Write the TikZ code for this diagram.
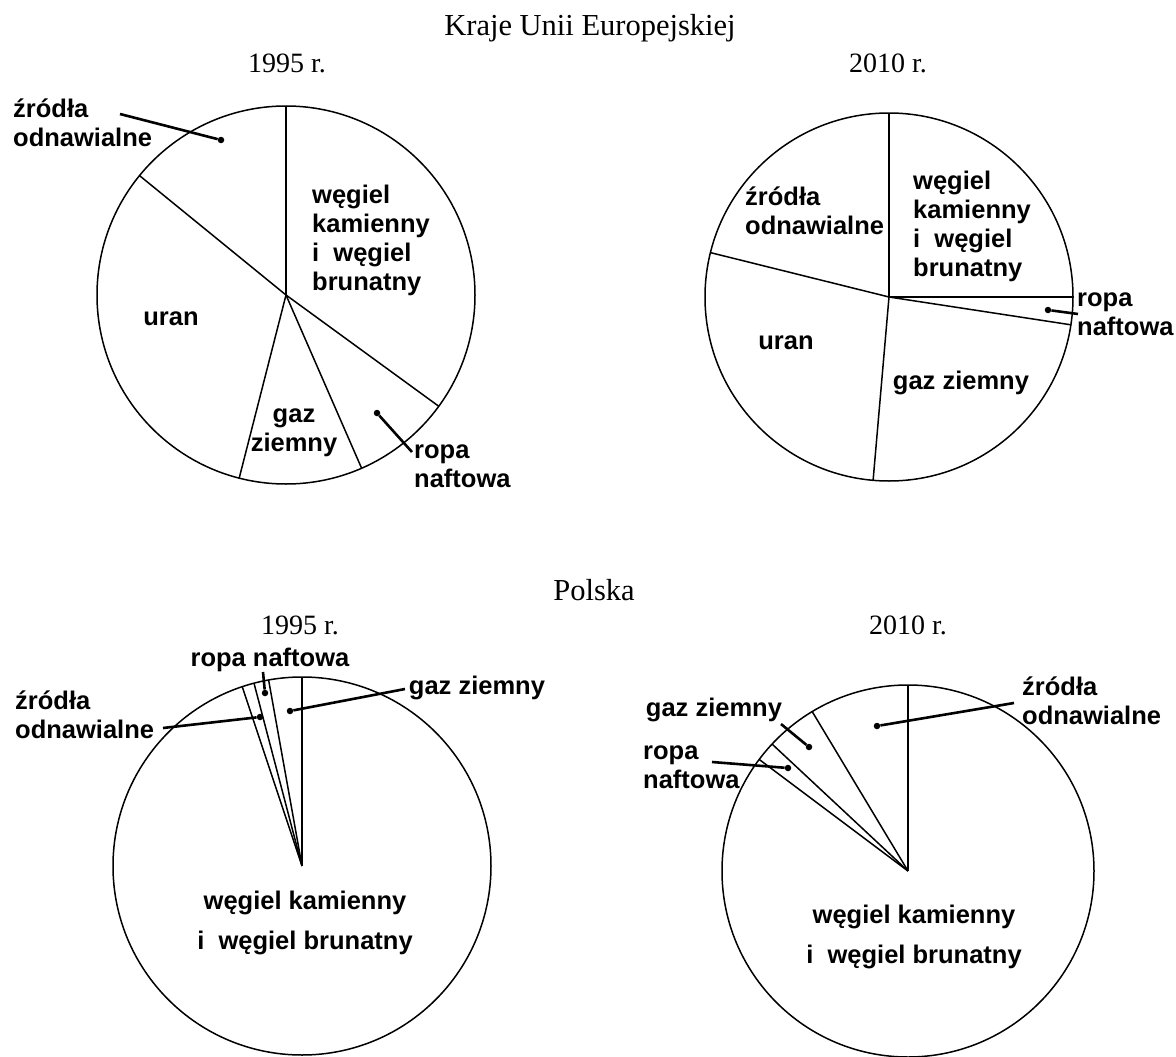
\documentclass[tikz,border=0pt]{standalone}
\usepackage{fontspec}
\setmainfont{Liberation Serif}
\newfontfamily\labfont{Liberation Sans}
\begin{document}
\begin{tikzpicture}[x=1pt,y=-1pt,
  pieline/.style={line width=1.5pt},
  leader/.style={line width=2.6pt},
  dotmark/.style={circle,fill=black,inner sep=0pt,minimum size=6.5pt},
  title/.style={font=\fontsize{28}{30}\selectfont, inner sep=0pt},
  bigtitle/.style={font=\fontsize{30.5}{32}\selectfont, inner sep=0pt},
  lab/.style={font=\labfont\bfseries\fontsize{25.5}{29}\selectfont, inner sep=0pt, align=left, anchor=west},
  labc/.style={font=\labfont\bfseries\fontsize{25.5}{29}\selectfont, inner sep=0pt, align=center},
  labw/.style={font=\labfont\bfseries\fontsize{25.5}{40}\selectfont, inner sep=0pt, align=center}]
\useasboundingbox[fill=white] (0,0) rectangle (1176,1057);

% titles
\node[bigtitle] (t1) at (590,28) {Kraje Unii Europejskiej};
\node[title] (t2) at (287,63) {1995 r.};
\node[title] (t3) at (888,63) {2010 r.};
\node[bigtitle] (t4) at (594,590) {Polska};
\node[title] (t5) at (300,625) {1995 r.};
\node[title] (t6) at (908,625) {2010 r.};

% ---------- EU 1995 ----------
\coordinate (c1) at (286,295);
\draw[pieline] (c1) circle (189);
\draw[pieline] (c1) -- (286,106);
\draw[pieline] (c1) -- (139.5,175.6);
\draw[pieline] (c1) -- (438.8,406.3);
\draw[pieline] (c1) -- (239.2,478.1);
\draw[pieline] (c1) -- (361.6,468.2);
\node[lab] (src1) at (13,123) {źródła\\odnawialne};
\node[lab] (weg1) at (312,240) {węgiel\\kamienny\\i\ \ węgiel\\brunatny};
\node[labc] (uran1) at (171,319) {uran};
\node[labc] (gaz1) at (294,433) {gaz\\ziemny};
\node[lab] (ropa1) at (414,466) {ropa\\naftowa};
\node[dotmark] (d1a) at (221,140) {};
\node[dotmark] (d1b) at (377,413) {};
\coordinate (l1a) at (120,114);
\coordinate (l1b) at (412,452);
\draw[leader] (l1a) -- (d1a);
\draw[leader] (l1b) -- (d1b);

% ---------- EU 2010 ----------
\coordinate (c2) at (889,297);
\draw[pieline] (c2) circle (184);
\draw[pieline] (c2) -- (889,113);
\draw[pieline] (c2) -- (1073,297);
\draw[pieline] (c2) -- (1070.9,324.8);
\draw[pieline] (c2) -- (710.4,252.6);
\draw[pieline] (c2) -- (873.1,480.3);
\node[lab] (weg2) at (913,226) {węgiel\\kamienny\\i\ \ węgiel\\brunatny};
\node[lab] (src2) at (745,211) {źródła\\odnawialne};
\node[labc] (uran2) at (786,343) {uran};
\node[labc] (gaz2) at (961,383) {gaz ziemny};
\node[lab] (ropa2) at (1077,314) {ropa\\naftowa};
\node[dotmark] (d2a) at (1048,310) {};
\coordinate (l2a) at (1078,314);
\draw[leader] (l2a) -- (d2a);

% ---------- Polska 1995 ----------
\coordinate (c3) at (302,866);
\draw[pieline] (c3) circle (189);
\draw[pieline] (c3) -- (302,677);
\draw[pieline] (c3) -- (268.6,679.9);
\draw[pieline] (c3) -- (254,683.2);
\draw[pieline] (c3) -- (242.2,686.7);
\node[labc] (ropa3) at (270,660) {ropa naftowa};
\node[labc] (gaz3) at (477,688) {gaz ziemny};
\node[lab] (src3) at (15,715) {źródła\\odnawialne};
\node[labw] (weg3) at (305,923) {węgiel kamienny\\i\ \ węgiel brunatny};
\node[dotmark] (d3a) at (265,693) {};
\node[dotmark] (d3b) at (290,711) {};
\node[dotmark] (d3c) at (260,717) {};
\coordinate (l3a) at (263,672);
\coordinate (l3b) at (405,689);
\coordinate (l3c) at (163,728);
\draw[leader] (l3a) -- (d3a);
\draw[leader] (l3b) -- (d3b);
\draw[leader] (l3c) -- (d3c);

% ---------- Polska 2010 ----------
\coordinate (c4) at (908,871);
\draw[pieline] (c4) circle (186);
\draw[pieline] (c4) -- (908,685);
\draw[pieline] (c4) -- (812.2,711.6);
\draw[pieline] (c4) -- (772.1,744.1);
\draw[pieline] (c4) -- (759.2,759.4);
\node[lab] (src4) at (1022,701) {źródła\\odnawialne};
\node[labc] (gaz4) at (714,710) {gaz ziemny};
\node[lab] (ropa4) at (643,767) {ropa\\naftowa};
\node[labw] (weg4) at (914,937) {węgiel kamienny\\i\ \ węgiel brunatny};
\node[dotmark] (d4a) at (877,726) {};
\node[dotmark] (d4b) at (809,747) {};
\node[dotmark] (d4c) at (788,768) {};
\coordinate (l4a) at (1014,703);
\coordinate (l4b) at (781,724);
\coordinate (l4c) at (712,762);
\draw[leader] (l4a) -- (d4a);
\draw[leader] (l4b) -- (d4b);
\draw[leader] (l4c) -- (d4c);
\end{tikzpicture}
\end{document}
